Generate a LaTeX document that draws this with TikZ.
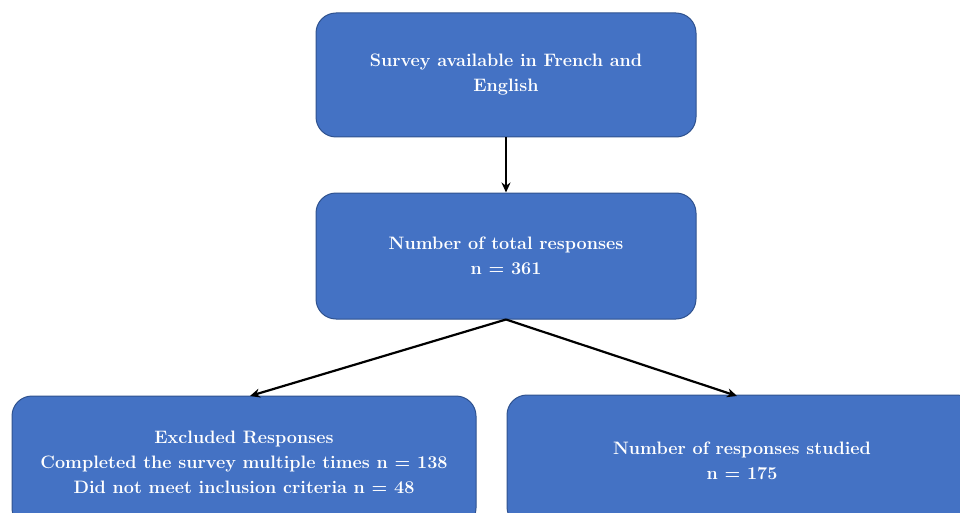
\documentclass[tikz,border=0pt]{standalone}
\usetikzlibrary{arrows.meta}
\definecolor{boxblue}{HTML}{4472C4}
\definecolor{boxedge}{HTML}{2F528F}
\begin{document}
\begin{tikzpicture}[x=1pt,y=-1pt,
  flowbox/.style={draw=boxedge, line width=1pt, fill=boxblue, rounded corners=20pt,
    text=white, font=\bfseries\fontsize{18}{25}\selectfont, align=center,
    inner sep=0pt, anchor=center},
  conn/.style={line width=2.2pt, draw=black, -{Stealth[length=10pt,width=9pt]}}]
\useasboundingbox (0,0) rectangle (960,513);
\clip (0,0) rectangle (960,513);
\node[flowbox, minimum width=380pt, minimum height=124pt] (top) at (506,75)
  {Survey available in French and\\English};
\node[flowbox, minimum width=380pt, minimum height=126pt] (mid) at (506,256)
  {Number of total responses\\n = 361};
\node[flowbox, minimum width=464pt, minimum height=132pt] (left) at (244,462)
  {Excluded Responses\\Completed the survey multiple times n = 138\\Did not meet inclusion criteria n = 48};
\node[flowbox, minimum width=470pt, minimum height=132pt] (right) at (742,461)
  {Number of responses studied\\n = 175};
\coordinate (lt) at (250,396);
\coordinate (rt) at (737,396);
\draw[conn] (top.south) -- (mid.north);
\draw[conn] (mid.south) -- (lt);
\draw[conn] (mid.south) -- (rt);
\end{tikzpicture}
\end{document}
